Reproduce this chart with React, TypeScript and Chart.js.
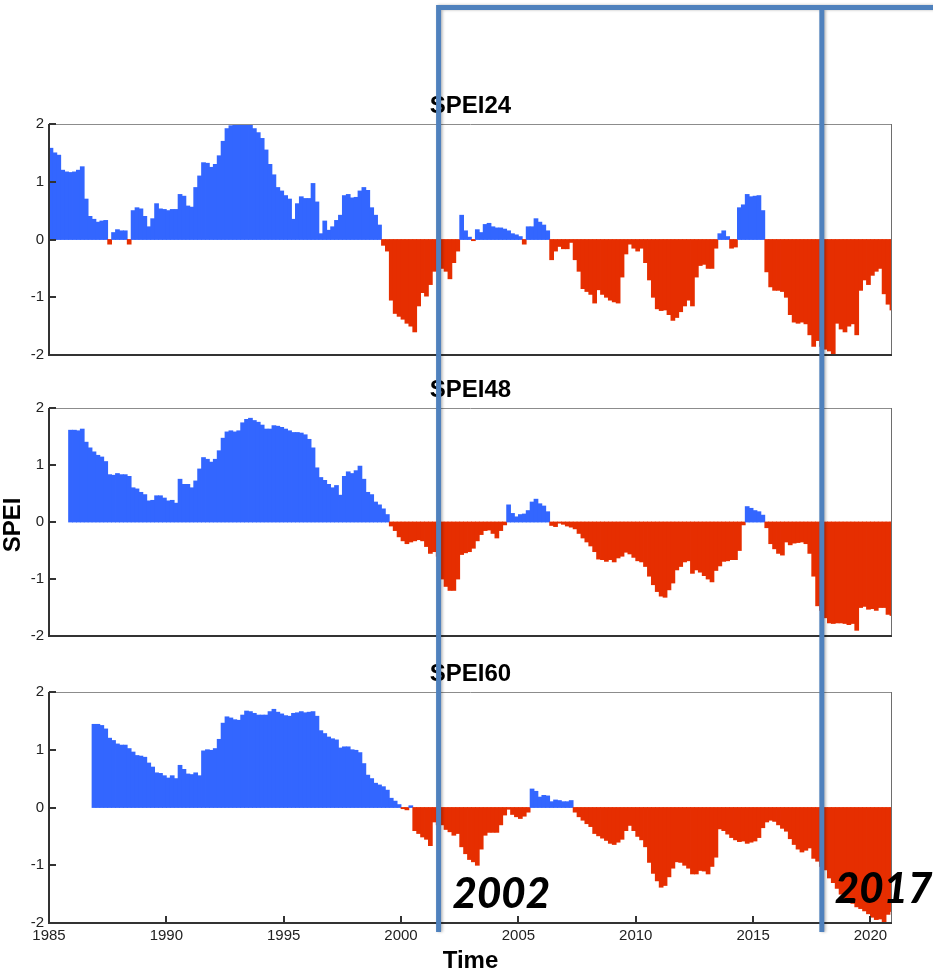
import React, { useEffect, useRef } from 'react';
import { Chart, registerables } from 'chart.js';

Chart.register(...registerables);

// ---------------- data ----------------
const START_YEAR = 1985;
const END_YEAR = 2020.92;
const STEPS_PER_YEAR = 6; // bimonthly values
const X_TICKS = [1985, 1990, 1995, 2000, 2005, 2010, 2015, 2020];
const Y_TICKS = [-2, -1, 0, 1, 2];
const PANEL_TITLES = ['SPEI24', 'SPEI48', 'SPEI60'];
const ANNOT_YEARS = [2001.6, 2017.93];
const ANNOT_LABELS = ['2002', '2017'];

const SPEI24: (number | null)[] = [
  1.58, 1.5, 1.46, 1.2, 1.17, 1.16,
  1.17, 1.2, 1.26, 0.7, 0.4, 0.35,
  0.3, 0.32, 0.33, -0.08, 0.12, 0.17,
  0.15, 0.15, -0.08, 0.5, 0.55, 0.53,
  0.4, 0.22, 0.36, 0.62, 0.53, 0.52,
  0.5, 0.52, 0.52, 0.78, 0.75, 0.58,
  0.56, 0.9, 1.1, 1.33, 1.32, 1.25,
  1.3, 1.45, 1.7, 1.92, 1.97, 1.98,
  2.0, 2.0, 2.0, 1.98, 1.92, 1.85,
  1.75, 1.55, 1.3, 1.12, 0.9, 0.84,
  0.76, 0.7, 0.35, 0.62, 0.74, 0.71,
  0.71, 0.97, 0.65, 0.1, 0.32, 0.16,
  0.22, 0.33, 0.42, 0.76, 0.78, 0.72,
  0.73, 0.84, 0.9, 0.85, 0.55, 0.42,
  0.25, -0.1, -0.2, -1.05, -1.28, -1.33,
  -1.38, -1.45, -1.5, -1.6, -1.15, -0.92,
  -0.98, -0.78, -0.55, -0.54, -0.5, -0.55,
  -0.68, -0.4, -0.2, 0.42, 0.15, 0.04,
  -0.02, 0.17, 0.12, 0.26, 0.28, 0.22,
  0.2, 0.2, 0.18, 0.15, 0.1, 0.08,
  0.05, -0.08, 0.22, 0.22, 0.36, 0.3,
  0.25, 0.15, -0.35, -0.2, -0.12, -0.16,
  -0.16, -0.05, -0.35, -0.55, -0.85, -0.9,
  -0.95, -1.1, -0.87, -0.95, -1.0, -1.05,
  -1.08, -1.1, -0.65, -0.25, -0.08, -0.15,
  -0.2, -0.15, -0.4, -0.7, -1.0, -1.2,
  -1.23, -1.22, -1.3, -1.4, -1.35, -1.25,
  -1.15, -1.05, -1.15, -0.65, -0.45, -0.43,
  -0.5, -0.5, -0.15, 0.1, 0.15, 0.05,
  -0.15, -0.13, 0.55, 0.6, 0.78, 0.74,
  0.75, 0.76, 0.5, -0.56, -0.82, -0.88,
  -0.88, -0.9, -1.0, -1.3, -1.43, -1.45,
  -1.43, -1.46, -1.65, -1.85, -1.75, -1.85,
  -1.9, -1.93, -1.98, -1.45, -1.55, -1.6,
  -1.5, -1.46, -1.65, -0.88, -0.7, -0.78,
  -0.62, -0.55, -0.5, -0.94, -1.12, -1.22,
];

const SPEI48: (number | null)[] = [
  null, null, null, null, null, 1.61,
  1.61, 1.6, 1.63, 1.4, 1.3, 1.23,
  1.17, 1.14, 1.06, 0.83, 0.82, 0.85,
  0.83, 0.83, 0.8, 0.6, 0.58, 0.52,
  0.48, 0.37, 0.38, 0.46, 0.46, 0.42,
  0.37, 0.38, 0.33, 0.75, 0.66, 0.66,
  0.6, 0.72, 0.93, 1.13, 1.1, 1.05,
  1.1, 1.25, 1.47, 1.58, 1.6, 1.58,
  1.6, 1.74, 1.8, 1.82, 1.78, 1.75,
  1.7, 1.63, 1.63, 1.69, 1.68, 1.66,
  1.63, 1.6, 1.57, 1.57, 1.56, 1.53,
  1.45, 1.3, 0.95, 0.78, 0.73, 0.66,
  0.6, 0.64, 0.47, 0.8, 0.88, 0.85,
  0.9, 0.98, 0.75, 0.52, 0.48, 0.35,
  0.3, 0.23, 0.13, -0.07, -0.15, -0.26,
  -0.33, -0.38, -0.35, -0.33, -0.31, -0.33,
  -0.43, -0.55, -0.52, -0.6, -1.0, -1.13,
  -1.2, -1.2, -1.0, -0.57, -0.54, -0.52,
  -0.46, -0.33, -0.22, -0.15, -0.14, -0.2,
  -0.28, -0.15, -0.05, 0.3, 0.15, 0.09,
  0.13, 0.14, 0.2, 0.35, 0.4, 0.32,
  0.28, 0.18, -0.06, -0.08, -0.02, -0.04,
  -0.07, -0.09, -0.12, -0.2, -0.28, -0.35,
  -0.42, -0.52, -0.65, -0.66, -0.69, -0.66,
  -0.7, -0.63, -0.6, -0.53, -0.56, -0.62,
  -0.68, -0.7, -0.78, -0.95, -1.1, -1.22,
  -1.3, -1.32, -1.19, -1.07, -0.84, -0.78,
  -0.7, -0.68, -0.9, -0.84, -0.88, -0.94,
  -1.0, -1.05, -0.85, -0.77, -0.69, -0.68,
  -0.66, -0.66, -0.5, -0.05, 0.27, 0.24,
  0.2, 0.18, 0.12, -0.1, -0.38, -0.47,
  -0.55, -0.58, -0.35, -0.4, -0.37, -0.36,
  -0.35, -0.38, -0.55, -0.95, -1.47, -1.55,
  -1.68, -1.77, -1.78, -1.77, -1.77, -1.78,
  -1.8, -1.78, -1.9, -1.5, -1.48, -1.53,
  -1.52, -1.55, -1.5, -1.5, -1.62, -1.64,
];

const SPEI60: (number | null)[] = [
  null, null, null, null, null, null,
  null, null, null, null, null, 1.44,
  1.44, 1.42, 1.36, 1.2, 1.16, 1.1,
  1.08, 1.08, 1.02, 0.96, 0.9, 0.89,
  0.87, 0.77, 0.7, 0.6, 0.59, 0.55,
  0.51, 0.55, 0.5, 0.73, 0.66, 0.58,
  0.57, 0.6, 0.55, 0.98, 1.0, 0.99,
  1.02, 1.18, 1.46, 1.57, 1.55, 1.52,
  1.51, 1.6, 1.67, 1.66, 1.63, 1.6,
  1.6, 1.6, 1.66, 1.7, 1.65, 1.62,
  1.59, 1.58, 1.63, 1.64, 1.66, 1.64,
  1.65, 1.66, 1.58, 1.33, 1.28, 1.22,
  1.19, 1.17, 1.03, 1.05, 1.05, 1.0,
  0.99, 0.95, 0.76, 0.56, 0.5, 0.42,
  0.39, 0.36, 0.3, 0.16, 0.11, 0.05,
  -0.02, -0.04, 0.03, -0.4, -0.45, -0.51,
  -0.55, -0.66, -0.25, -0.3, -0.3, -0.38,
  -0.42, -0.48, -0.45, -0.68, -0.8, -0.9,
  -0.94, -1.0, -0.72, -0.48, -0.43, -0.43,
  -0.43, -0.3, -0.13, -0.03, -0.12, -0.16,
  -0.19, -0.15, -0.08, 0.32, 0.28, 0.18,
  0.21, 0.2, 0.1, 0.13, 0.12, 0.1,
  0.1, 0.12, -0.08, -0.16, -0.22, -0.28,
  -0.33, -0.45, -0.49, -0.53, -0.57, -0.62,
  -0.64, -0.6, -0.55, -0.4, -0.31, -0.4,
  -0.5, -0.56, -0.68, -0.95, -1.14, -1.27,
  -1.38, -1.35, -1.2, -1.05, -0.94, -0.95,
  -1.0, -1.05, -1.15, -1.15, -1.09, -1.1,
  -1.15, -1.02, -0.86, -0.37, -0.4, -0.46,
  -0.52, -0.56, -0.59, -0.58, -0.62, -0.6,
  -0.58, -0.52, -0.35, -0.25, -0.22, -0.24,
  -0.3, -0.36, -0.41, -0.54, -0.64, -0.72,
  -0.77, -0.74, -0.7, -0.88, -0.93, -1.02,
  -1.08, -1.22, -1.3, -1.4, -1.5, -1.58,
  -1.62, -1.66, -1.72, -1.75, -1.79, -1.84,
  -1.9, -1.94, -1.93, -1.98, -1.85, -1.8,
];

const SERIES = [SPEI24, SPEI48, SPEI60];

// ---------------- style ----------------
const BLUE = '#3366FF';
const RED = '#E62E00';
const ANNOT_COLOR = 'rgb(79,129,189)';
const FONT = '"Liberation Sans", Arial, Helvetica, sans-serif';
const ANNOT_FONT = 'Lato, "Liberation Sans", sans-serif';
const WIDTH = 933;

type PanelLayout = { top: number; height: number; padTop: number; xAxisHeight: number; showX: boolean };
const LAYOUTS: PanelLayout[] = [
  { top: 0, height: 370, padTop: 124, xAxisHeight: 15, showX: false },
  { top: 370, height: 280, padTop: 38, xAxisHeight: 11, showX: false },
  { top: 650, height: 322, padTop: 42, xAxisHeight: 49, showX: true },
];

const decorPlugin = {
  id: 'panelDecor',
  afterDraw(chart: any, _args: any, opts: any) {
    const ctx: CanvasRenderingContext2D = chart.ctx;
    const { left, right, top, bottom } = chart.chartArea;
    const xs = chart.scales.x;
    const ys = chart.scales.y;
    ctx.save();
    // frame: top & right thin grey
    ctx.lineWidth = 1;
    ctx.strokeStyle = '#8c8c8c';
    ctx.beginPath();
    ctx.moveTo(left, top + 0.5);
    ctx.lineTo(right, top + 0.5);
    ctx.stroke();
    ctx.strokeStyle = '#6e6e6e';
    ctx.beginPath();
    ctx.moveTo(right - 0.5, top);
    ctx.lineTo(right - 0.5, bottom);
    ctx.stroke();
    // left & bottom dark axes
    ctx.lineWidth = 2;
    ctx.strokeStyle = '#333';
    ctx.beginPath();
    ctx.moveTo(left, top);
    ctx.lineTo(left, bottom + 1);
    ctx.moveTo(left - 1, bottom);
    ctx.lineTo(right, bottom);
    ctx.stroke();
    // inward ticks
    ctx.beginPath();
    Y_TICKS.forEach((v) => {
      const y = Math.round(ys.getPixelForValue(v));
      ctx.moveTo(left, y);
      ctx.lineTo(left + 7, y);
    });
    if (opts.showX) {
      X_TICKS.forEach((v) => {
        const x = Math.round(xs.getPixelForValue(v));
        ctx.moveTo(x, bottom);
        ctx.lineTo(x, bottom - 7);
      });
    }
    ctx.stroke();
    // panel title
    ctx.fillStyle = '#000';
    ctx.font = `bold 24px ${FONT}`;
    ctx.textAlign = 'center';
    ctx.textBaseline = 'alphabetic';
    ctx.fillText(opts.title, (left + right) / 2, top - 11);
    // axis titles
    if (opts.yLabel) {
      ctx.save();
      ctx.translate(20, opts.yLabelY);
      ctx.rotate(-Math.PI / 2);
      ctx.fillText(opts.yLabel, 0, 0);
      ctx.restore();
    }
    if (opts.xLabel) {
      ctx.fillText(opts.xLabel, (left + right) / 2, opts.xLabelY);
    }
    // annotation overlay (blue frame lines)
    ctx.save();
    ctx.strokeStyle = ANNOT_COLOR;
    ctx.lineWidth = 5;
    ctx.shadowColor = 'rgba(0,0,0,0.28)';
    ctx.shadowBlur = 3;
    ctx.shadowOffsetX = 1.5;
    ctx.shadowOffsetY = 0;
    ctx.beginPath();
    const xsAnn = ANNOT_YEARS.map((yr) => xs.getPixelForValue(yr));
    xsAnn.forEach((x) => {
      ctx.moveTo(x, opts.lineTop);
      ctx.lineTo(x, opts.lineBottom);
    });
    if (opts.drawTopLine) {
      ctx.moveTo(xsAnn[0] - 2.5, 7.5);
      ctx.lineTo(chart.width + 5, 7.5);
    }
    ctx.stroke();
    ctx.restore();
    if (opts.annotate) {
      ctx.fillStyle = '#000';
      ctx.font = `italic 900 42px ${ANNOT_FONT}`;
      ctx.textAlign = 'left';
      ctx.fillText(ANNOT_LABELS[0], xsAnn[0] + 14, opts.annotY[0]);
      ctx.fillText(ANNOT_LABELS[1], xsAnn[1] + 13, opts.annotY[1]);
    }
    ctx.restore();
  },
};

function makeConfig(idx: number): any {
  const lay = LAYOUTS[idx];
  const values = SERIES[idx];
  const data = values.map((v, i) => ({ x: START_YEAR + (i + 0.5) / STEPS_PER_YEAR, y: v }));
  const decor: any = {
    title: PANEL_TITLES[idx],
    showX: lay.showX,
    lineTop: idx === 0 ? 5 : -10,
    lineBottom: idx === 2 ? 282 : lay.height + 10,
    drawTopLine: idx === 0,
  };
  if (idx === 1) {
    decor.yLabel = 'SPEI';
    decor.yLabelY = 155;
  }
  if (idx === 2) {
    decor.xLabel = 'Time';
    decor.xLabelY = 318;
    decor.annotate = true;
    decor.annotY = [258, 253];
  }
  return {
    type: 'bar',
    data: {
      datasets: [
        {
          label: PANEL_TITLES[idx],
          data,
          backgroundColor: (c: any) => (c.raw && c.raw.y < 0 ? RED : BLUE),
          borderWidth: 0,
          barPercentage: 1,
          categoryPercentage: 1,
          inflateAmount: 0.4,
        },
      ],
    },
    options: {
      animation: false,
      responsive: false,
      devicePixelRatio: 1,
      events: [],
      layout: { padding: { top: lay.padTop, right: 41, bottom: 0, left: 0 } },
      plugins: {
        legend: { display: false },
        tooltip: { enabled: false },
        title: { display: false },
        panelDecor: decor,
      },
      scales: {
        x: {
          type: 'linear',
          min: START_YEAR,
          max: END_YEAR,
          offset: false,
          grid: { display: false, drawTicks: false },
          border: { display: false },
          ticks: {
            display: lay.showX,
            stepSize: 5,
            includeBounds: false,
            autoSkip: false,
            maxRotation: 0,
            padding: 4,
            color: '#222',
            font: { family: FONT, size: 15 },
            callback: (v: number) => (X_TICKS.includes(v) ? String(v) : ''),
          },
          afterFit: (s: any) => {
            s.height = lay.xAxisHeight;
          },
        },
        y: {
          type: 'linear',
          min: -2,
          max: 2,
          grid: { display: false, drawTicks: false },
          border: { display: false },
          ticks: {
            stepSize: 1,
            padding: 5,
            color: '#222',
            font: { family: FONT, size: 15 },
            callback: (v: number) => String(v),
          },
          afterFit: (s: any) => {
            s.width = 49;
          },
        },
      },
    },
    plugins: [decorPlugin],
  };
}

function Panel({ idx }: { idx: number }) {
  const ref = useRef<HTMLCanvasElement>(null);
  const lay = LAYOUTS[idx];
  useEffect(() => {
    if (!ref.current) return;
    const chart = new Chart(ref.current, makeConfig(idx));
    return () => chart.destroy();
  }, [idx]);
  return (
    <canvas
      ref={ref}
      width={WIDTH}
      height={lay.height}
      style={{ position: 'absolute', left: 0, top: lay.top, width: WIDTH, height: lay.height, display: 'block' }}
    />
  );
}

export default function App() {
  return (
    <div style={{ position: 'absolute', left: 0, top: 0, width: WIDTH, height: 972, background: '#fff', overflow: 'hidden' }}>
      {[0, 1, 2].map((i) => (
        <Panel key={i} idx={i} />
      ))}
    </div>
  );
}
